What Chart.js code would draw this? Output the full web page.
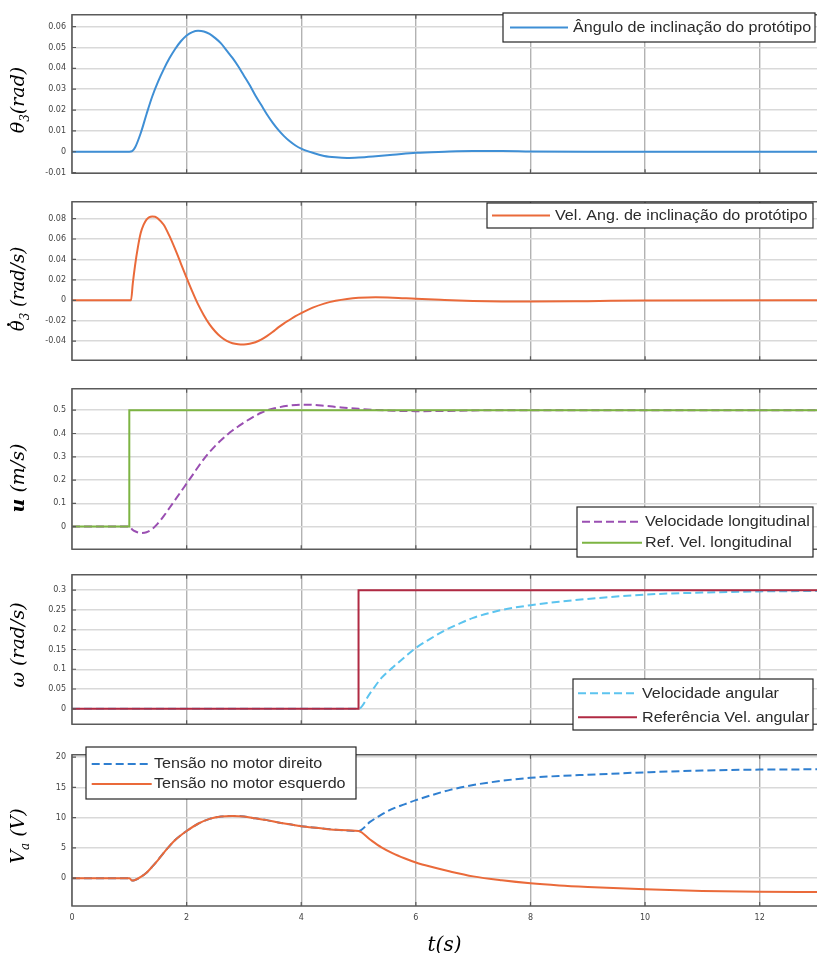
<!DOCTYPE html>
<html>
<head>
<meta charset="utf-8">
<script src="https://cdn.jsdelivr.net/npm/chart.js@4.4.1/dist/chart.umd.min.js"></script>
<style>
html,body{margin:0;padding:0;background:#fff;}
#wrap{position:relative;width:817px;height:953px;overflow:hidden;background:#fff;}
#wrap canvas{position:absolute;left:0;}
</style>
</head>
<body>
<div id="wrap">
<canvas id="c1"></canvas>
<canvas id="c2"></canvas>
<canvas id="c3"></canvas>
<canvas id="c4"></canvas>
<canvas id="c5"></canvas>
</div>
<script>
// ---------------- DATA ----------------
const xTicks = [0, 2, 4, 6, 8, 10, 12];

// Panel 1: tilt angle (rad)
const t1 = [0,1.0,1.05,1.1,1.2,1.3,1.4,1.5,1.6,1.7,1.8,1.9,2.0,2.1,2.2,2.3,2.4,2.5,2.6,2.7,2.8,2.9,3.0,3.1,3.2,3.3,3.4,3.5,3.6,3.7,3.8,3.9,4.0,4.2,4.4,4.6,4.8,5.0,5.3,5.6,6.0,6.5,7.0,7.5,8.0,9.0,13];
const theta3 = [0,0,0.0003,0.002,0.009,0.018,0.0265,0.0335,0.0395,0.0448,0.0493,0.053,0.0558,0.0574,0.058,0.0577,0.0565,0.0545,0.052,0.0485,0.045,0.041,0.0365,0.032,0.027,0.0225,0.018,0.014,0.0105,0.0075,0.005,0.003,0.0015,-0.0005,-0.002,-0.0027,-0.003,-0.0028,-0.0022,-0.0015,-0.0005,0,0.0003,0.0003,0.0001,0,0];
const yTicks1 = [-0.01, 0, 0.01, 0.02, 0.03, 0.04, 0.05, 0.06];

// Panel 2: tilt angular velocity (rad/s)
const t2 = [0,1.0,1.03,1.06,1.1,1.15,1.2,1.25,1.3,1.35,1.4,1.45,1.5,1.6,1.7,1.8,1.9,2.0,2.1,2.2,2.3,2.4,2.5,2.6,2.7,2.8,2.9,3.0,3.1,3.2,3.3,3.4,3.5,3.6,3.7,3.8,3.9,4.0,4.2,4.4,4.6,4.8,5.0,5.3,5.6,6.0,6.5,7.0,7.5,8.0,9.0,10,13];
const theta3dot = [0,0,0,0.016,0.034,0.052,0.066,0.074,0.079,0.0815,0.082,0.0818,0.080,0.074,0.063,0.050,0.036,0.022,0.0085,-0.004,-0.0145,-0.0235,-0.0305,-0.036,-0.0398,-0.042,-0.043,-0.0432,-0.0425,-0.041,-0.0385,-0.035,-0.031,-0.0265,-0.0225,-0.019,-0.0155,-0.0125,-0.0072,-0.0032,-0.0005,0.0013,0.0024,0.003,0.0026,0.0015,0.0004,-0.0006,-0.0011,-0.0012,-0.0008,-0.0002,0];
const yTicks2 = [-0.04, -0.02, 0, 0.02, 0.04, 0.06, 0.08];

// Panel 3: longitudinal velocity (m/s)
const t3 = [0,1.0,1.05,1.1,1.2,1.3,1.4,1.5,1.6,1.7,1.8,1.9,2.0,2.1,2.2,2.3,2.4,2.5,2.6,2.7,2.8,2.9,3.0,3.1,3.2,3.3,3.4,3.5,3.6,3.8,4.0,4.2,4.4,4.7,5.0,5.3,5.6,6.0,6.5,7.0,7.5,13];
const uVel = [0,0,-0.012,-0.02,-0.027,-0.024,-0.01,0.014,0.045,0.08,0.115,0.15,0.185,0.22,0.256,0.29,0.32,0.347,0.371,0.393,0.413,0.43,0.447,0.462,0.476,0.489,0.499,0.506,0.512,0.52,0.524,0.523,0.519,0.512,0.506,0.501,0.498,0.496,0.497,0.499,0.5,0.5];
const tURef = [0, 1, 1, 13];
const uRef = [0, 0, 0.5, 0.5];
const yTicks3 = [0, 0.1, 0.2, 0.3, 0.4, 0.5];

// Panel 4: angular velocity (rad/s)
const t4 = [0,5.0,5.2,5.4,5.6,5.8,6.0,6.25,6.5,6.75,7.0,7.5,8.0,8.5,9.0,9.5,10,11,12,13];
const wVel = [0,0,0.039,0.078,0.105,0.13,0.154,0.177,0.198,0.215,0.23,0.25,0.262,0.271,0.278,0.284,0.289,0.294,0.297,0.298];
const tWRef = [0, 5, 5, 13];
const wRef = [0, 0, 0.3, 0.3];
const yTicks4 = [0, 0.05, 0.1, 0.15, 0.2, 0.25, 0.3];

// Panel 5: motor voltages (V)
const tV = [0,1.0,1.05,1.1,1.2,1.3,1.4,1.5,1.6,1.7,1.8,1.9,2.0,2.2,2.4,2.6,2.8,3.0,3.2,3.4,3.6,3.8,4.0,4.3,4.6,5.0,5.2,5.4,5.6,5.8,6.0,6.3,6.6,7.0,7.5,8.0,8.5,9.0,10,11,12,13];
const vRight = [0,0,-0.4,-0.3,0.2,0.9,1.9,3.0,4.2,5.3,6.3,7.1,7.8,9.0,9.8,10.2,10.3,10.2,9.9,9.6,9.2,8.9,8.6,8.3,8.0,7.8,9.3,10.5,11.5,12.2,12.9,13.8,14.6,15.4,16.1,16.6,16.9,17.1,17.5,17.8,17.95,18.0];
const vLeft = [0,0,-0.4,-0.3,0.2,0.9,1.9,3.0,4.2,5.3,6.3,7.1,7.8,9.0,9.8,10.2,10.3,10.2,9.9,9.6,9.2,8.9,8.6,8.3,8.0,7.8,6.4,5.1,4.1,3.3,2.6,1.8,1.1,0.3,-0.35,-0.85,-1.2,-1.45,-1.85,-2.1,-2.25,-2.3];
const yTicks5 = [0, 5, 10, 15, 20];

// ---------------- STYLE / HELPERS ----------------
const FONT_SANS = '"Liberation Sans", Arial, sans-serif';
const FONT_TICK = '"DejaVu Sans", "Liberation Sans", sans-serif';
const FONT_MATH = '"DejaVu Serif", "Liberation Serif", serif';

const pts = (xs, ys) => xs.map((x, i) => ({ x: x, y: ys[i] }));
const fmt = v => String(Math.round(v * 10000) / 10000);

const decoPlugin = {
  id: 'panelDeco',
  afterDatasetsDraw(chart, args, o) {
    const ctx = chart.ctx, ca = chart.chartArea, xs = chart.scales.x, ys = chart.scales.y;
    ctx.save();
    // axes box (top, left, bottom)
    ctx.strokeStyle = o.frameColor; ctx.lineWidth = o.frameWidth;
    ctx.beginPath();
    ctx.moveTo(ca.right, ca.top); ctx.lineTo(ca.left, ca.top);
    ctx.lineTo(ca.left, ca.bottom); ctx.lineTo(ca.right, ca.bottom);
    ctx.stroke();
    // inward tick marks
    ctx.lineWidth = 1.2;
    ctx.beginPath();
    xs.ticks.forEach(tk => {
      const px = xs.getPixelForValue(tk.value);
      if (px <= ca.left + 1) return;
      ctx.moveTo(px, ca.bottom); ctx.lineTo(px, ca.bottom - o.tickLen);
      ctx.moveTo(px, ca.top); ctx.lineTo(px, ca.top + o.tickLen);
    });
    ys.ticks.forEach(tk => {
      const py = ys.getPixelForValue(tk.value);
      ctx.moveTo(ca.left, py); ctx.lineTo(ca.left + o.tickLen, py);
    });
    ctx.stroke();
    // boxed legend
    const L = o.legend;
    if (L) {
      const off = o.canvasTop;
      const [bx, by, bw, bh] = L.box;
      ctx.fillStyle = '#ffffff';
      ctx.fillRect(bx, by - off, bw, bh);
      ctx.strokeStyle = L.border; ctx.lineWidth = L.borderWidth;
      ctx.strokeRect(bx, by - off, bw, bh);
      L.items.forEach((di, i) => {
        const ds = chart.data.datasets[di];
        const cy = L.rows[i] - off;
        ctx.save();
        ctx.strokeStyle = ds.borderColor; ctx.lineWidth = ds.borderWidth;
        ctx.setLineDash(ds.borderDash || []);
        ctx.beginPath(); ctx.moveTo(L.sampleX, cy); ctx.lineTo(L.sampleX + L.sampleLen, cy); ctx.stroke();
        ctx.restore();
        ctx.save();
        ctx.translate(L.textX, cy); ctx.scale(L.stretch, 1);
        ctx.font = L.font; ctx.fillStyle = L.color; ctx.textBaseline = 'middle';
        ctx.fillText(ds.label, 0, 0.5);
        ctx.restore();
      });
    }
    ctx.restore();
  },
  afterDraw(chart, args, o) {
    const M = o.yLabel; if (!M) return;
    const ctx = chart.ctx;
    ctx.save();
    ctx.translate(M.x, M.cy - o.canvasTop);
    ctx.rotate(-Math.PI / 2);
    const fontOf = p => (p.bold ? 'bold ' : '') + 'italic ' + (p.sub ? M.subSize : M.size) + 'px ' + FONT_MATH;
    let W = 0;
    const widths = M.parts.map(p => { ctx.font = fontOf(p); const w = ctx.measureText(p.s).width; W += w; return w; });
    let x = -W / 2;
    ctx.fillStyle = '#000'; ctx.textBaseline = 'alphabetic';
    M.parts.forEach((p, i) => {
      ctx.font = fontOf(p);
      const y = M.base + (p.sub ? M.subShift : 0);
      ctx.fillText(p.s, x, y);
      if (p.dot) {
        ctx.beginPath();
        ctx.arc(x + widths[i] * 0.62, y - M.size * 0.86, 1.5, 0, Math.PI * 2);
        ctx.fill();
      }
      x += widths[i];
    });
    ctx.restore();
  }
};

function makePanel(id, cfg) {
  const padTop = 6;
  const canvasTop = cfg.areaTop - padTop;
  const areaH = cfg.areaBottom - cfg.areaTop;
  const cv = document.getElementById(id);
  cv.width = 817; cv.height = padTop + areaH + cfg.xH;
  cv.style.top = canvasTop + 'px';
  cv.style.width = '817px'; cv.style.height = cv.height + 'px';
  return new Chart(cv, {
    type: 'line',
    data: { datasets: cfg.datasets },
    options: {
      responsive: false, animation: false, events: [], devicePixelRatio: 1,
      layout: { padding: { top: padTop, left: 0, right: 0, bottom: 0 } },
      elements: { point: { radius: 0 }, line: { borderWidth: 2 } },
      plugins: {
        legend: { display: false }, tooltip: { enabled: false },
        panelDeco: { canvasTop: canvasTop, frameColor: '#5a5a5a', frameWidth: 1.5, tickLen: 4, legend: cfg.legend, yLabel: cfg.yLabel }
      },
      scales: {
        x: {
          type: 'linear', min: 0, max: 13,
          afterBuildTicks: s => { s.ticks = xTicks.map(v => ({ value: v })); },
          afterFit: s => { s.height = cfg.xH; },
          grid: { color: '#b2b2b2', lineWidth: 1.4, drawTicks: false },
          border: { display: false },
          ticks: { display: !!cfg.showX, padding: 7, color: '#444', font: { family: FONT_TICK, size: 8 }, maxRotation: 0, autoSkip: false },
          title: cfg.xTitle ? { display: true, text: cfg.xTitle, color: '#000', font: { family: FONT_MATH, size: 20, style: 'italic', lineHeight: 1 }, padding: { top: 0, bottom: 0 } } : { display: false }
        },
        y: {
          type: 'linear', min: cfg.yMin, max: cfg.yMax,
          afterBuildTicks: s => { s.ticks = cfg.yTicks.map(v => ({ value: v })); },
          afterFit: s => { s.width = 72; },
          grid: { color: '#d9d9d9', lineWidth: 1.5, drawTicks: false },
          border: { display: false },
          ticks: { padding: 6, color: '#444', font: { family: FONT_TICK, size: 8 }, callback: v => fmt(v) }
        }
      }
    },
    plugins: [decoPlugin]
  });
}

const curve = { fill: false, pointRadius: 0, borderWidth: 2, cubicInterpolationMode: 'monotone' };
const step = { fill: false, pointRadius: 0, borderWidth: 2, tension: 0 };
const legendBase = { border: '#262626', borderWidth: 1.2, font: '14px ' + FONT_SANS, color: '#2b2b2b', stretch: 1.15 };
const mathBase = { x: 18, size: 19, subSize: 12, subShift: 5, base: 6 };

makePanel('c1', {
  areaTop: 10, areaBottom: 180, xH: 4,
  yMin: -0.0103, yMax: 0.0657, yTicks: yTicks1,
  datasets: [Object.assign({ label: 'Ângulo de inclinação do protótipo', data: pts(t1, theta3), borderColor: '#3f8fd5' }, curve)],
  legend: Object.assign({ box: [503, 13, 312, 29], rows: [27.5], sampleX: 510, sampleLen: 58, textX: 573, items: [0] }, legendBase),
  yLabel: Object.assign({ cy: 100, parts: [{ s: 'θ' }, { s: '3', sub: true }, { s: '(rad)' }] }, mathBase)
});

makePanel('c2', {
  areaTop: 197, areaBottom: 367, xH: 4,
  yMin: -0.0586, yMax: 0.0964, yTicks: yTicks2,
  datasets: [Object.assign({ label: 'Vel. Ang. de inclinação do protótipo', data: pts(t2, theta3dot), borderColor: '#ea6a3a' }, curve)],
  legend: Object.assign({ box: [487, 203, 326, 25], rows: [215.5], sampleX: 492, sampleLen: 58, textX: 555, items: [0] }, legendBase),
  yLabel: Object.assign({ cy: 289, parts: [{ s: 'θ', dot: true }, { s: '3', sub: true }, { s: ' (rad/s)' }] }, mathBase, { size: 18 })
});

makePanel('c3', {
  areaTop: 384, areaBottom: 554, xH: 6,
  yMin: -0.097, yMax: 0.592, yTicks: yTicks3,
  datasets: [
    Object.assign({ label: 'Ref. Vel. longitudinal', data: pts(tURef, uRef), borderColor: '#7db443' }, step),
    Object.assign({ label: 'Velocidade longitudinal', data: pts(t3, uVel), borderColor: '#9a4fb2', borderDash: [8, 4] }, curve)
  ],
  legend: Object.assign({ box: [577, 507, 236, 50], rows: [521.7, 542.7], sampleX: 582, sampleLen: 60, textX: 645, items: [1, 0] }, legendBase),
  yLabel: Object.assign({ cy: 478, parts: [{ s: 'u', bold: true }, { s: ' (m/s)' }] }, mathBase)
});

makePanel('c4', {
  areaTop: 570, areaBottom: 731, xH: 4,
  yMin: -0.039, yMax: 0.339, yTicks: yTicks4,
  datasets: [
    Object.assign({ label: 'Referência Vel. angular', data: pts(tWRef, wRef), borderColor: '#b02a43' }, step),
    Object.assign({ label: 'Velocidade angular', data: pts(t4, wVel), borderColor: '#5cc4ef', borderDash: [8, 4] }, curve)
  ],
  legend: Object.assign({ box: [573, 679, 240, 51], rows: [693.3, 717.3], sampleX: 578, sampleLen: 59, textX: 642, items: [1, 0] }, legendBase),
  yLabel: Object.assign({ cy: 645, parts: [{ s: 'ω' }, { s: ' (rad/s)' }] }, mathBase)
});

makePanel('c5', {
  areaTop: 750, areaBottom: 906, xH: 50, showX: true, xTitle: 't(s)',
  yMin: -4.6, yMax: 20.4, yTicks: yTicks5,
  datasets: [
    Object.assign({ label: 'Tensão no motor esquerdo', data: pts(tV, vLeft), borderColor: '#ea6a3a' }, curve),
    Object.assign({ label: 'Tensão no motor direito', data: pts(tV, vRight), borderColor: '#2f7fd0', borderDash: [8, 4] }, curve)
  ],
  legend: Object.assign({ box: [86, 747, 270, 52], rows: [764, 784], sampleX: 91.7, sampleLen: 60, textX: 154, items: [1, 0] }, legendBase),
  yLabel: Object.assign({ cy: 836, parts: [{ s: 'V' }, { s: 'a', sub: true }, { s: ' (V)' }] }, mathBase)
});
</script>
</body>
</html>
